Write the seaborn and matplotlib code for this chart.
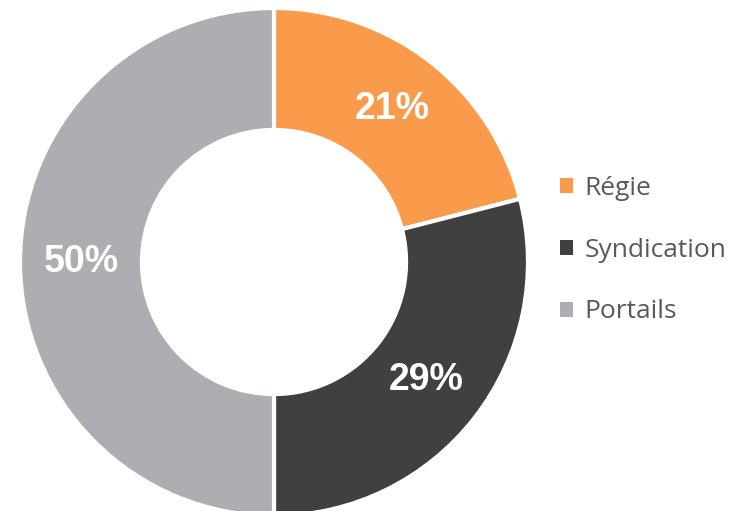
import matplotlib
matplotlib.use("Agg")
import matplotlib.pyplot as plt
import seaborn as sns
from matplotlib.patches import Patch

# données du graphique
categories = ["Régie", "Syndication", "Portails"]
parts = [21, 29, 50]
couleurs = ["#F99B4A", "#404040", "#ADAEB1"]

sns.set_theme(style="white")
plt.rcParams['font.family'] = ['Liberation Sans', 'DejaVu Sans']
palette = sns.color_palette(couleurs)

fig = plt.figure(figsize=(7.48, 5.11), dpi=100)
# axe carré placé à la main pour que l'anneau remplisse la hauteur
ax = fig.add_axes([20 / 748, (511 - 262 - 254) / 511, 508 / 748, 508 / 511])

wedges, texts, autotexts = ax.pie(
    parts, colors=palette, startangle=90, counterclock=False,
    radius=1, autopct="%d%%", pctdistance=0.76,
    wedgeprops=dict(width=0.48, edgecolor="white", linewidth=3),
)
for t in autotexts:
    t.set_color("white")
    t.set_fontsize(27)
    t.set_fontweight("bold")

ax.set_xlim(-1, 1)
ax.set_ylim(-1, 1)
ax.set_aspect("equal")
ax.axis("off")

# légende à droite avec des petits carrés
handles = [Patch(facecolor=c, edgecolor="none") for c in palette]
leg = fig.legend(handles, categories, loc="center left",
                 bbox_to_anchor=(536 / 748, (511 - 250) / 511),
                 frameon=False, handlelength=0.5, handleheight=0.5,
                 handletextpad=0.45, labelspacing=1.4,
                 prop={"family": "Open Sans", "size": 19})
for t in leg.get_texts():
    t.set_color("#595959")

fig.savefig("out.png", dpi=100, facecolor="white")
